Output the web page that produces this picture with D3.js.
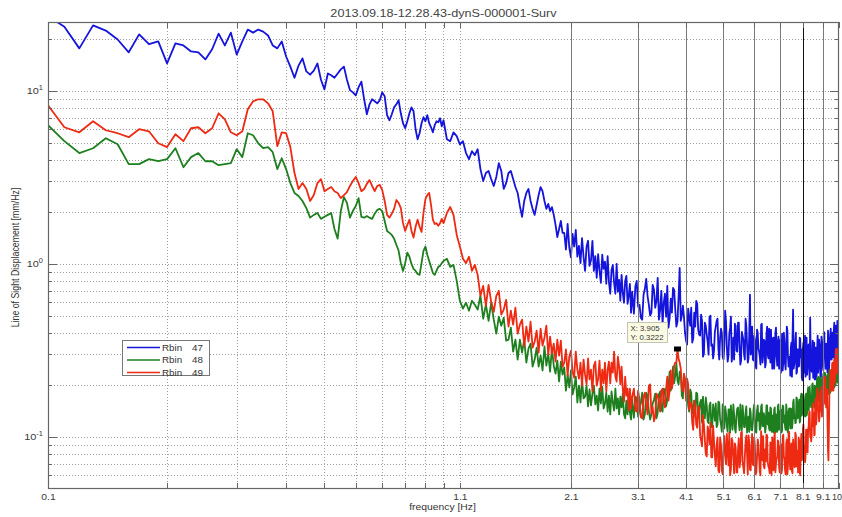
<!DOCTYPE html>
<html>
<head>
<meta charset="utf-8">
<script src="https://cdn.jsdelivr.net/npm/d3@7"></script>
<style>
  html, body { margin: 0; padding: 0; background: #fff; }
  svg { display: block; font-family: "Liberation Sans", Arial, Helvetica, sans-serif; }
</style>
</head>
<body>
<svg id="chart" width="842" height="517"></svg>
<script>
// ---- labels ----
const chartTitle = "2013.09.18-12.28.43-dynS-000001-Surv";
const xAxisLabel = "frequency [Hz]";
const yAxisLabel = "Line of Sight Displacement [mm/Hz]";
const seriesNames = ["Rbin 47", "Rbin 48", "Rbin 49"];
const seriesColors = ["#1414dc", "#1e7f1e", "#ee2a12"];

// ---- axes ----
const xDomain = [0.1, 10];
const yDomain = [0.05, 25];
const xTickValues = [0.1, 1.1, 2.1, 3.1, 4.1, 5.1, 6.1, 7.1, 8.1, 9.1, 10];
const xTickLabels = ["0.1", "1.1", "2.1", "3.1", "4.1", "5.1", "6.1", "7.1", "8.1", "9.1", "10"];
const xMinorValues = [0.2, 0.3, 0.4, 0.5, 0.6, 0.7, 0.8, 0.9, 1.0];
const xMarkerLines = [2.1, 3.1, 4.1, 5.1, 6.1, 7.1, 8.1, 9.1];
const yMajorValues = [0.1, 1, 10];
const yExponents = ["-1", "0", "1"];
const yMinorValues = [0.06, 0.07, 0.08, 0.09, 0.2, 0.3, 0.4, 0.5, 0.6, 0.7, 0.8, 0.9,
                      2, 3, 4, 5, 6, 7, 8, 9, 20];

// ---- frequency bins: four interleaving segments, linear spacing inside each ----
// segments: 0.10-1.00, 1.02-3.00, 3.03-9.98 and 3.055-10.005
const binStart = [0.10, 1.02, 3.03, 3.055];
const binStep  = [0.01, 0.02, 0.05, 0.05];
const binCount = [91, 100, 140, 140];

// ---- spectra [mm/Hz], one array per bin segment ----
const rbin47Low = [
  27, 23.5, 17.6, 23.9, 22.3, 19.8, 16.7, 21.2, 18.6, 19.3,
  14.4, 18.8, 18.3, 16.9, 16.7, 15.2, 17.4, 21.4, 18.3, 21.7,
  16.2, 19.3, 22.6, 21.7, 22.6, 22.0, 20.9, 18.3, 17.6, 19.3,
  15.8, 13.8, 11.9, 14.0, 15.4, 12.95, 12.4, 13.1, 14.4, 11.6,
  10.2, 12.6, 12.3, 11.9, 12.6, 13.3, 13.8, 11.6, 10.1, 9.8,
  9.42, 10.5, 11.3, 8.94, 7.32, 8.36, 8.94, 8.70, 8.47, 8.82,
  9.80, 9.30, 7.23, 6.76, 7.32, 8.03, 8.36, 8.82, 7.42, 6.50,
  6.08, 6.67, 7.42, 8.03, 7.62, 6.00, 5.25, 5.69, 6.50, 7.04,
  6.67, 7.23, 6.50, 6.16, 5.76, 6.33, 6.67, 6.58, 6.94, 6.24,
  6.76
];
const rbin47Mid = [
  5.25, 5.12, 5.76, 5.47, 4.91, 5.12, 4.37, 4.03, 4.48, 4.25,
  4.60, 3.53, 3.01, 3.35, 3.44, 3.09, 2.82, 3.18, 3.82, 3.44,
  2.71, 2.93, 3.35, 3.44, 3.09, 2.78, 2.57, 2.16, 1.87, 2.31,
  2.57, 2.71, 2.31, 2.08, 1.92, 2.19, 2.50, 2.78, 2.63, 2.31,
  2.08, 2.22, 2.02, 2.13, 1.92, 1.68, 1.43, 1.59, 1.77, 1.51,
  1.51, 1.21, 1.70, 1.24, 1.09, 1.49, 1.26, 1.57, 1.10, 1.27,
  1.01, 1.41, 1.10, 0.911, 1.26, 1.36, 0.974, 1.05, 1.36, 0.911,
  1.11, 0.831, 1.14, 0.911, 0.777, 1.13, 0.936, 1.03, 0.767, 1.11,
  0.787, 0.672, 0.923, 0.987, 0.777, 0.672, 1.00, 0.690, 0.809, 0.612,
  0.864, 0.681, 0.596, 0.798, 0.853, 0.588, 0.654, 0.767, 0.522, 0.690
];
const rbin47HighA = [
  0.515, 0.798, 0.581, 0.476, 0.718, 0.654, 0.502, 0.757, 0.558, 0.831,
  0.544, 0.445, 0.672, 0.747, 0.482, 0.522, 0.708, 0.434, 0.646, 0.469,
  0.573, 0.400, 0.342, 0.495, 0.558, 0.370, 0.434, 0.588, 0.390, 0.509,
  0.291, 0.457, 0.390, 0.299, 0.502, 0.342, 0.315, 0.434, 0.482, 0.280,
  0.422, 0.291, 0.337, 0.463, 0.272, 0.395, 0.495, 0.303, 0.280, 0.439,
  0.311, 0.457, 0.262, 0.405, 0.365, 0.280, 0.439, 0.269, 0.390, 0.299,
  0.434, 0.276, 0.365, 0.248, 0.400, 0.311, 0.262, 0.451, 0.295, 0.360,
  0.265, 0.434, 0.284, 0.346, 0.417, 0.248, 0.375, 0.295, 0.428, 0.258,
  0.380, 0.303, 0.235, 0.395, 0.269, 0.355, 0.245, 0.434, 0.288, 0.258,
  0.226, 0.351, 0.385, 0.248, 0.276, 0.400, 0.238, 0.320, 0.258, 0.370,
  0.320, 0.212, 0.351, 0.272, 0.223, 0.375, 0.255, 0.342, 0.215, 0.303,
  0.238, 0.360, 0.258, 0.215, 0.328, 0.229, 0.385, 0.265, 0.342, 0.217,
  0.380, 0.269, 0.242, 0.400, 0.295, 0.346, 0.255, 0.411, 0.232, 0.280,
  0.422, 0.280, 0.400, 0.295, 0.457, 0.307, 0.439, 0.269, 0.390, 0.288
];
const rbin47HighB = [
  0.737, 0.566, 0.489, 0.663, 0.820, 0.581, 0.522, 0.708, 0.612, 0.476,
  0.699, 0.596, 0.495, 0.428, 0.629, 0.727, 0.544, 0.463, 0.948, 0.502,
  0.495, 0.360, 0.551, 0.439, 0.351, 0.522, 0.612, 0.417, 0.385, 0.469,
  0.303, 0.439, 0.355, 0.489, 0.337, 0.284, 0.405, 0.469, 0.324, 0.375,
  0.400, 0.280, 0.536, 0.333, 0.295, 0.428, 0.272, 0.375, 0.451, 0.315,
  0.457, 0.333, 0.276, 0.385, 0.299, 0.482, 0.342, 0.284, 0.663, 0.315,
  0.280, 0.385, 0.258, 0.417, 0.324, 0.291, 0.445, 0.269, 0.365, 0.252,
  0.390, 0.299, 0.422, 0.269, 0.324, 0.370, 0.248, 0.400, 0.291, 0.346,
  0.248, 0.365, 0.295, 0.242, 0.400, 0.265, 0.324, 0.411, 0.255, 0.291,
  0.328, 0.223, 0.544, 0.262, 0.360, 0.232, 0.320, 0.255, 0.375, 0.288,
  0.220, 0.324, 0.235, 0.385, 0.258, 0.229, 0.337, 0.272, 0.489, 0.248,
  0.295, 0.220, 0.351, 0.252, 0.215, 0.315, 0.235, 0.365, 0.262, 0.223,
  0.351, 0.258, 0.405, 0.288, 0.248, 0.324, 0.235, 0.370, 0.276, 0.390,
  0.311, 0.390, 0.288, 0.422, 0.269, 0.405, 0.295, 0.469, 0.328, 0.370
];

const rbin48Low = [
  6.33, 5.12, 4.37, 4.66, 5.32, 4.91, 3.77, 3.77, 4.03, 3.92,
  4.03, 4.66, 3.62, 4.14, 4.37, 3.92, 3.92, 3.72, 3.77, 3.82,
  4.60, 4.14, 5.69, 5.54, 4.98, 4.66, 4.73, 4.42, 3.53, 4.08,
  3.53, 2.93, 2.57, 2.47, 2.31, 2.10, 1.85, 1.92, 1.97, 1.82,
  1.87, 1.92, 1.97, 1.59, 1.40, 2.02, 2.43, 2.25, 1.85, 2.02,
  2.16, 2.40, 1.87, 1.85, 1.89, 1.85, 1.82, 1.95, 2.05, 2.08,
  2.02, 1.77, 1.55, 1.51, 1.47, 1.40, 1.29, 1.19, 1.01, 0.911,
  1.01, 1.16, 1.10, 1.00, 0.936, 0.911, 0.875, 0.864, 1.01, 1.19,
  1.26, 1.13, 1.04, 0.961, 0.887, 0.864, 0.911, 0.961, 0.974, 1.01,
  1.04
];
const rbin48Mid = [
  1.07, 0.961, 0.987, 0.798, 0.612, 0.551, 0.596, 0.536, 0.612, 0.581,
  0.544, 0.654, 0.482, 0.581, 0.469, 0.596, 0.476, 0.395, 0.495, 0.439,
  0.489, 0.360, 0.365, 0.428, 0.311, 0.365, 0.280, 0.365, 0.307, 0.365,
  0.269, 0.324, 0.346, 0.255, 0.280, 0.328, 0.255, 0.295, 0.242, 0.333,
  0.258, 0.303, 0.238, 0.328, 0.258, 0.232, 0.276, 0.209, 0.272, 0.229,
  0.252, 0.185, 0.229, 0.193, 0.242, 0.176, 0.193, 0.223, 0.158, 0.198,
  0.158, 0.215, 0.167, 0.171, 0.198, 0.150, 0.188, 0.152, 0.178, 0.198,
  0.154, 0.173, 0.142, 0.190, 0.156, 0.195, 0.146, 0.156, 0.180, 0.140,
  0.173, 0.135, 0.183, 0.158, 0.142, 0.190, 0.146, 0.167, 0.135, 0.171,
  0.148, 0.178, 0.135, 0.128, 0.162, 0.135, 0.173, 0.138, 0.126, 0.164
];
const rbin48HighA = [
  0.129, 0.167, 0.144, 0.180, 0.135, 0.173, 0.126, 0.156, 0.178, 0.138,
  0.183, 0.140, 0.188, 0.164, 0.238, 0.206, 0.204, 0.265, 0.201, 0.232,
  0.167, 0.215, 0.183, 0.140, 0.180, 0.146, 0.131, 0.178, 0.142, 0.164,
  0.171, 0.128, 0.152, 0.120, 0.158, 0.114, 0.142, 0.156, 0.118, 0.158,
  0.118, 0.154, 0.112, 0.137, 0.107, 0.144, 0.152, 0.110, 0.135, 0.106,
  0.146, 0.120, 0.154, 0.109, 0.133, 0.114, 0.150, 0.116, 0.107, 0.138,
  0.109, 0.144, 0.123, 0.106, 0.152, 0.137, 0.112, 0.154, 0.115, 0.131,
  0.114, 0.152, 0.138, 0.109, 0.146, 0.116, 0.106, 0.148, 0.135, 0.107,
  0.154, 0.120, 0.144, 0.109, 0.150, 0.133, 0.110, 0.140, 0.106, 0.146,
  0.112, 0.144, 0.120, 0.164, 0.133, 0.121, 0.167, 0.130, 0.164, 0.124,
  0.178, 0.140, 0.176, 0.138, 0.167, 0.133, 0.180, 0.142, 0.195, 0.158,
  0.150, 0.204, 0.169, 0.198, 0.152, 0.195, 0.160, 0.223, 0.176, 0.220,
  0.215, 0.164, 0.232, 0.180, 0.232, 0.178, 0.223, 0.176, 0.223, 0.190,
  0.188, 0.245, 0.198, 0.265, 0.193, 0.265, 0.217, 0.262, 0.206, 0.262
];
const rbin48HighB = [
  0.171, 0.131, 0.158, 0.126, 0.180, 0.142, 0.135, 0.164, 0.128, 0.176,
  0.144, 0.190, 0.150, 0.195, 0.185, 0.255, 0.226, 0.212, 0.238, 0.173,
  0.229, 0.173, 0.152, 0.188, 0.137, 0.162, 0.180, 0.133, 0.158, 0.121,
  0.140, 0.169, 0.123, 0.152, 0.114, 0.154, 0.124, 0.114, 0.160, 0.126,
  0.107, 0.137, 0.150, 0.115, 0.144, 0.106, 0.126, 0.154, 0.112, 0.133,
  0.148, 0.109, 0.121, 0.152, 0.114, 0.138, 0.106, 0.131, 0.146, 0.110,
  0.120, 0.154, 0.107, 0.142, 0.124, 0.110, 0.150, 0.116, 0.137, 0.106,
  0.152, 0.118, 0.112, 0.148, 0.107, 0.133, 0.144, 0.106, 0.123, 0.150,
  0.110, 0.140, 0.106, 0.152, 0.121, 0.114, 0.154, 0.109, 0.138, 0.126,
  0.146, 0.112, 0.158, 0.128, 0.120, 0.169, 0.128, 0.152, 0.121, 0.169,
  0.133, 0.176, 0.148, 0.131, 0.178, 0.137, 0.193, 0.152, 0.171, 0.148,
  0.201, 0.156, 0.148, 0.193, 0.158, 0.220, 0.176, 0.162, 0.215, 0.176,
  0.162, 0.220, 0.180, 0.235, 0.178, 0.169, 0.229, 0.201, 0.245, 0.180,
  0.238, 0.193, 0.265, 0.203, 0.242, 0.198, 0.269, 0.223, 0.209, 0.276
];

const rbin49Low = [
  8.25, 6.16, 5.76, 6.67, 5.92, 5.69, 5.40, 6.00, 5.84, 4.98,
  4.73, 5.61, 5.12, 6.08, 6.16, 5.69, 6.08, 7.42, 6.85, 5.76,
  5.54, 5.84, 7.82, 8.70, 8.94, 8.94, 8.47, 7.62, 4.79, 5.76,
  5.69, 4.73, 3.35, 2.71, 2.93, 2.71, 2.31, 2.50, 2.93, 3.09,
  2.63, 2.71, 2.78, 2.63, 2.57, 2.40, 2.50, 2.60, 2.82, 3.01,
  3.18, 2.93, 2.63, 2.71, 2.90, 3.05, 2.82, 2.63, 2.82, 2.86,
  2.67, 2.31, 1.92, 1.85, 1.95, 2.08, 2.34, 2.25, 2.10, 1.72,
  1.55, 1.68, 1.80, 1.55, 1.42, 1.64, 1.80, 1.64, 1.53, 1.97,
  2.37, 2.50, 2.57, 2.19, 1.80, 1.70, 1.72, 1.66, 1.72, 1.82,
  1.72
];
const rbin49Mid = [
  1.97, 2.13, 1.92, 1.47, 1.26, 1.07, 1.01, 1.10, 0.911, 0.987,
  0.864, 0.654, 0.747, 0.573, 0.757, 0.604, 0.529, 0.654, 0.699, 0.509,
  0.544, 0.620, 0.434, 0.536, 0.445, 0.558, 0.395, 0.445, 0.476, 0.333,
  0.434, 0.355, 0.463, 0.328, 0.355, 0.411, 0.307, 0.422, 0.337, 0.375,
  0.439, 0.299, 0.380, 0.303, 0.346, 0.272, 0.365, 0.295, 0.360, 0.255,
  0.269, 0.320, 0.226, 0.291, 0.315, 0.238, 0.220, 0.311, 0.245, 0.217,
  0.269, 0.198, 0.280, 0.229, 0.201, 0.284, 0.215, 0.245, 0.183, 0.258,
  0.272, 0.198, 0.215, 0.276, 0.185, 0.245, 0.204, 0.269, 0.183, 0.245,
  0.272, 0.204, 0.269, 0.235, 0.311, 0.223, 0.209, 0.291, 0.255, 0.201,
  0.255, 0.190, 0.160, 0.223, 0.173, 0.190, 0.142, 0.190, 0.146, 0.171
];
const rbin49HighA = [
  0.190, 0.140, 0.164, 0.128, 0.180, 0.135, 0.201, 0.148, 0.131, 0.173,
  0.140, 0.190, 0.148, 0.223, 0.185, 0.190, 0.258, 0.269, 0.284, 0.248,
  0.183, 0.212, 0.217, 0.144, 0.156, 0.110, 0.150, 0.113, 0.148, 0.0954,
  0.133, 0.0954, 0.0772, 0.107, 0.121, 0.0762, 0.0941, 0.0676, 0.0995, 0.0624,
  0.0905, 0.0608, 0.101, 0.0694, 0.0847, 0.106, 0.0649, 0.0941, 0.0616, 0.0869,
  0.0624, 0.098, 0.0722, 0.107, 0.0667, 0.0772, 0.102, 0.0608, 0.0929, 0.0641,
  0.104, 0.0685, 0.0881, 0.0624, 0.0967, 0.0762, 0.0600, 0.0917, 0.101, 0.0658,
  0.0722, 0.102, 0.0676, 0.0616, 0.0893, 0.0995, 0.0641, 0.106, 0.0704, 0.0772,
  0.0941, 0.0624, 0.0905, 0.0658, 0.103, 0.0742, 0.0608, 0.0967, 0.0685, 0.107,
  0.0649, 0.0917, 0.0616, 0.0869, 0.0667, 0.102, 0.0836, 0.0624, 0.0954, 0.0600,
  0.104, 0.0782, 0.118, 0.0881, 0.0762, 0.110, 0.0814, 0.116, 0.140, 0.102,
  0.101, 0.156, 0.138, 0.103, 0.167, 0.130, 0.190, 0.142, 0.130, 0.183,
  0.193, 0.144, 0.220, 0.162, 0.223, 0.148, 0.188, 0.0836, 0.109, 0.188,
  0.242, 0.185, 0.269, 0.185, 0.280, 0.232, 0.324, 0.235, 0.311, 0.242
];
const rbin49HighB = [
  0.142, 0.185, 0.130, 0.171, 0.154, 0.198, 0.137, 0.123, 0.178, 0.162,
  0.185, 0.158, 0.190, 0.162, 0.242, 0.209, 0.269, 0.3222, 0.269, 0.193,
  0.232, 0.162, 0.201, 0.158, 0.121, 0.162, 0.118, 0.150, 0.102, 0.0881,
  0.118, 0.0793, 0.115, 0.0905, 0.0762, 0.116, 0.0782, 0.0893, 0.0641, 0.0995,
  0.0641, 0.0893, 0.0782, 0.104, 0.0685, 0.0600, 0.098, 0.0752, 0.0917, 0.0624,
  0.0836, 0.0667, 0.106, 0.0722, 0.0616, 0.0941, 0.0793, 0.102, 0.0649, 0.0869,
  0.0694, 0.0995, 0.0608, 0.0762, 0.0905, 0.0632, 0.108, 0.0732, 0.0676, 0.0847,
  0.103, 0.0713, 0.0658, 0.0929, 0.0600, 0.0825, 0.098, 0.0624, 0.0742, 0.0954,
  0.0667, 0.0881, 0.0616, 0.101, 0.0772, 0.0641, 0.0917, 0.0608, 0.104, 0.0722,
  0.0858, 0.0632, 0.0967, 0.0704, 0.106, 0.0676, 0.0782, 0.0995, 0.0624, 0.0893,
  0.0732, 0.112, 0.0836, 0.0713, 0.110, 0.0814, 0.109, 0.138, 0.0995, 0.0941,
  0.144, 0.115, 0.102, 0.154, 0.118, 0.190, 0.142, 0.123, 0.173, 0.140,
  0.131, 0.185, 0.154, 0.220, 0.167, 0.154, 0.116, 0.0732, 0.176, 0.242,
  0.201, 0.262, 0.188, 0.265, 0.206, 0.307, 0.232, 0.320, 0.258, 0.355
];

// data tip on the Rbin 49 spectrum
const tipFreq = 3.905;

// ---------------------------------------------------------------
const svg = d3.select("#chart");
const W = 842, H = 517;
const plot = { left: 48, right: 839, top: 22, bottom: 489 };
const textStretch = "scale(1.15,1)";

const x = d3.scaleLog().domain(xDomain).range([plot.left, plot.right]);
const y = d3.scaleLog().domain(yDomain).range([plot.bottom, plot.top]);

// frequency of every bin, segment by segment
const binFreqs = binStart.map((s, k) =>
  d3.range(binCount[k]).map(i => +(s + i * binStep[k]).toFixed(3)));

// pair each value with its bin frequency and order the points along the axis
function spectrum(segments) {
  const pts = [];
  segments.forEach((vals, k) => vals.forEach((v, i) => pts.push({ f: binFreqs[k][i], v })));
  return pts.sort((a, b) => a.f - b.f);
}

const series = [
  { name: seriesNames[0], color: seriesColors[0], points: spectrum([rbin47Low, rbin47Mid, rbin47HighA, rbin47HighB]) },
  { name: seriesNames[1], color: seriesColors[1], points: spectrum([rbin48Low, rbin48Mid, rbin48HighA, rbin48HighB]) },
  { name: seriesNames[2], color: seriesColors[2], points: spectrum([rbin49Low, rbin49Mid, rbin49HighA, rbin49HighB]) }
];

svg.append("rect").attr("width", W).attr("height", H).attr("fill", "#fff");

svg.append("defs").append("clipPath").attr("id", "plotClip")
  .append("rect")
  .attr("x", plot.left).attr("y", plot.top)
  .attr("width", plot.right - plot.left).attr("height", plot.bottom - plot.top);

// ---- dotted grid ----
const px = v => Math.round(v) + 0.5;
const grid = svg.append("g").attr("stroke", "#9c9c9c").attr("stroke-dasharray", "1,2")
  .attr("stroke-width", 1).attr("shape-rendering", "crispEdges");
grid.selectAll("line.h").data(yMajorValues.concat(yMinorValues)).join("line")
  .attr("class", "h")
  .attr("x1", plot.left).attr("x2", plot.right)
  .attr("y1", d => px(y(d))).attr("y2", d => px(y(d)));
grid.selectAll("line.v").data(xMinorValues.concat([1.1])).join("line")
  .attr("class", "v")
  .attr("y1", plot.top).attr("y2", plot.bottom)
  .attr("x1", d => px(x(d))).attr("x2", d => px(x(d)));

// ---- spectra ----
const line = d3.line()
  .x(d => x(d.f))
  .y(d => y(d.v));

svg.append("g").attr("clip-path", "url(#plotClip)")
  .selectAll("path").data(series).join("path")
  .attr("fill", "none")
  .attr("stroke", d => d.color)
  .attr("stroke-width", 1.8)
  .attr("stroke-linejoin", "round")
  .attr("d", d => line(d.points));

// ---- solid frequency marker lines ----
svg.append("g").attr("shape-rendering", "crispEdges")
  .selectAll("line").data(xMarkerLines).join("line")
  .attr("x1", d => px(x(d))).attr("x2", d => px(x(d)))
  .attr("y1", plot.top).attr("y2", plot.bottom)
  .attr("stroke", d => d === 8.1 ? "#111" : "#7a7a7a")
  .attr("stroke-width", 1);

// ---- axes (ticks point inward on all four sides) ----
const axisColor = "#666";
function styleAxis(g) {
  g.select(".domain").remove();
  g.selectAll(".tick line").attr("stroke", axisColor).attr("shape-rendering", "crispEdges");
  g.selectAll(".tick text").attr("fill", "#3a3a3a").attr("font-size", 9)
    .attr("font-family", "Liberation Sans, Arial, sans-serif");
}
const xTicksAll = xTickValues.concat(xMinorValues);
svg.append("g").attr("transform", `translate(0,${plot.bottom})`)
  .call(d3.axisBottom(x).tickValues(xTicksAll).tickSize(-6).tickPadding(5)
    .tickFormat(d => { const i = xTickValues.indexOf(d); return i >= 0 ? xTickLabels[i] : ""; }))
  .call(styleAxis)
  .call(g => g.selectAll(".tick text").attr("transform", d => d === xDomain[1] ? null : textStretch))
  // the last label sits against the right edge of the figure
  .call(g => g.selectAll(".tick text").filter(d => d === xDomain[1])
    .attr("text-anchor", "end").attr("x", 2.6));
svg.append("g").attr("transform", `translate(0,${plot.top})`)
  .call(d3.axisTop(x).tickValues(xTicksAll).tickSize(-6).tickFormat(""))
  .call(styleAxis);
svg.append("g").attr("transform", `translate(${plot.left},0)`)
  .call(d3.axisLeft(y).tickValues(yMajorValues).tickSize(-9).tickFormat(""))
  .call(styleAxis);
svg.append("g").attr("transform", `translate(${plot.left},0)`)
  .call(d3.axisLeft(y).tickValues(yMinorValues).tickSize(-4).tickFormat(""))
  .call(styleAxis);
svg.append("g").attr("transform", `translate(${plot.right},0)`)
  .call(d3.axisRight(y).tickValues(yMajorValues).tickSize(-9).tickFormat(""))
  .call(styleAxis);
svg.append("g").attr("transform", `translate(${plot.right},0)`)
  .call(d3.axisRight(y).tickValues(yMinorValues).tickSize(-4).tickFormat(""))
  .call(styleAxis);

// plot box
svg.append("rect")
  .attr("x", plot.left + 0.5).attr("y", plot.top + 0.5)
  .attr("width", plot.right - plot.left - 1).attr("height", plot.bottom - plot.top - 1)
  .attr("fill", "none").attr("stroke", axisColor).attr("stroke-width", 1.2);

// y tick labels: powers of ten
const yLab = svg.append("g").attr("fill", "#3a3a3a");
yMajorValues.forEach((v, i) => {
  const t = yLab.append("g").attr("transform", `translate(43,${y(v) + 3.5})`)
    .append("text").attr("transform", textStretch).attr("text-anchor", "end").attr("font-size", 9.5);
  t.append("tspan").text("10");
  t.append("tspan").attr("dy", -4).attr("font-size", 6.5).text(yExponents[i]);
});

// title and axis labels
svg.append("g").attr("transform", `translate(${(plot.left + plot.right) / 2},17)`)
  .append("text").attr("transform", textStretch).attr("text-anchor", "middle")
  .attr("font-size", 11).attr("fill", "#444").text(chartTitle);
svg.append("g").attr("transform", `translate(${(plot.left + plot.right) / 2 - 1},510)`)
  .append("text").attr("transform", textStretch).attr("text-anchor", "middle")
  .attr("font-size", 9).attr("fill", "#333").text(xAxisLabel);
svg.append("text")
  .attr("transform", `translate(18.5,${(plot.top + plot.bottom) / 2 + 2}) scale(1.15,1) rotate(-90)`)
  .attr("text-anchor", "middle").attr("font-size", 8.8).attr("fill", "#333").text(yAxisLabel);

// ---- legend ----
const legend = svg.append("g").attr("transform", "translate(122,340)");
legend.append("rect").attr("x", 0.5).attr("y", 0.5).attr("width", 87).attr("height", 35)
  .attr("fill", "#fff").attr("stroke", "#777");
series.forEach((s, i) => {
  const row = legend.append("g").attr("transform", `translate(0,${7.5 + i * 12.5})`);
  row.append("line").attr("x1", 5).attr("x2", 38).attr("y1", 0).attr("y2", 0)
    .attr("stroke", s.color).attr("stroke-width", 1.4);
  const [word, num] = s.name.split(" ");
  row.append("g").attr("transform", "translate(40,3)")
    .append("text").attr("transform", textStretch).attr("font-size", 8.5).attr("fill", "#333").text(word);
  row.append("g").attr("transform", "translate(70,3)")
    .append("text").attr("transform", textStretch).attr("font-size", 8.5).attr("fill", "#333").text(num);
});

// ---- data tip ----
const tipPoint = series[2].points.find(p => p.f === tipFreq);
const mx = x(tipPoint.f), my = y(tipPoint.v);
svg.append("rect").attr("x", mx - 3.5).attr("y", my - 2.5).attr("width", 7).attr("height", 5)
  .attr("fill", "#000");
const tip = svg.append("g").attr("transform", `translate(${Math.round(mx) - 49.5},${Math.round(my) - 26.5})`);
tip.append("rect").attr("width", 40).attr("height", 20)
  .attr("fill", "#fbfbe3").attr("stroke", "#c4c4b4");
tip.append("g").attr("transform", "translate(3,8.5)")
  .append("text").attr("transform", textStretch).attr("font-size", 6.8).attr("fill", "#333")
  .text("X: " + tipPoint.f);
tip.append("g").attr("transform", "translate(3,17)")
  .append("text").attr("transform", textStretch).attr("font-size", 6.8).attr("fill", "#333")
  .text("Y: " + tipPoint.v);
</script>
</body>
</html>
